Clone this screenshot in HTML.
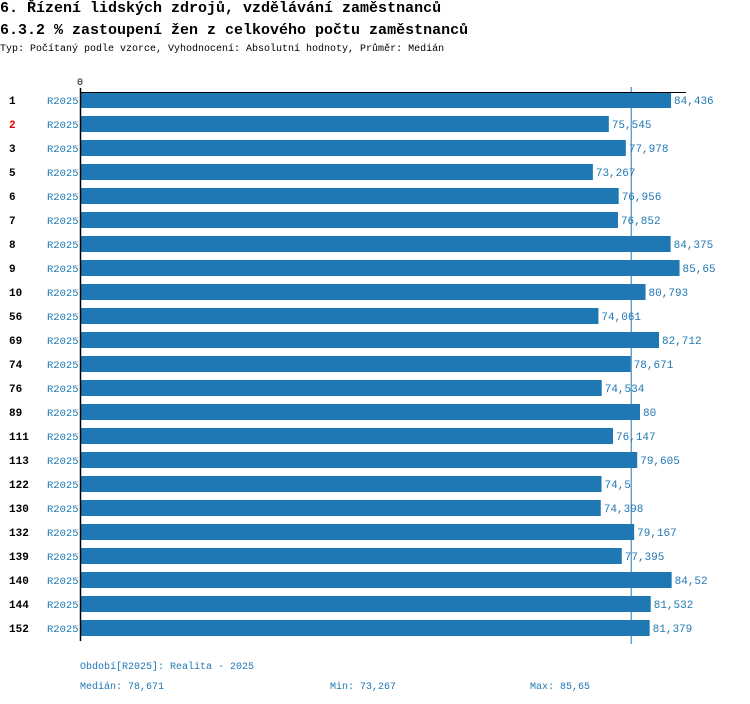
<!DOCTYPE html>
<html><head><meta charset="utf-8"><style>
body{margin:0;background:#fff;width:750px;height:704px;overflow:hidden;font-family:"Liberation Mono","DejaVu Sans Mono",monospace}
.t{position:absolute;left:0;font-weight:bold;font-size:15px;color:#000;white-space:nowrap}
</style></head><body>
<div class="t" style="top:0px">6. Řízení lidských zdrojů, vzdělávání zaměstnanců</div>
<div class="t" style="top:22px">6.3.2 % zastoupení žen z celkového počtu zaměstnanců</div>
<div style="position:absolute;left:0;top:44px;font-size:10px;white-space:nowrap">Typ: Počítaný podle vzorce, Vyhodnocení: Absolutní hodnoty, Průměr: Medián</div>
<svg id="c" width="750" height="704" style="position:absolute;left:0;top:0"></svg>
<script>
const categories=["1","2","3","5","6","7","8","9","10","56","69","74","76","89","111","113","122","130","132","139","140","144","152"];
const values=[84.436,75.545,77.978,73.267,76.956,76.852,84.375,85.65,80.793,74.061,82.712,78.671,74.534,80,76.147,79.605,74.5,74.398,79.167,77.395,84.52,81.532,81.379];
const labels=["84,436","75,545","77,978","73,267","76,956","76,852","84,375","85,65","80,793","74,061","82,712","78,671","74,534","80","76,147","79,605","74,5","74,398","79,167","77,395","84,52","81,532","81,379"];
const median=78.671;
const svg=document.getElementById('c');const NS='http://www.w3.org/2000/svg';
const x=v=>80+v*7;const y=i=>100+i*24;
function mk(t,a,txt){const e=document.createElementNS(NS,t);for(const k in a)e.setAttribute(k,a[k]);if(txt!==undefined)e.textContent=txt;svg.appendChild(e);return e;}
let e;
e=mk('line',{x1:x(median)+0.5,x2:x(median)+0.5,y1:87,y2:644,stroke:'#1f77b4','stroke-width':1});


e=mk('text',{x:80,y:85,'font-size':10,'text-anchor':'middle','font-family':'Liberation Mono,monospace'},'0');


categories.forEach((c,i)=>{
 e=mk('rect',{x:x(0),y:y(i)-8,width:x(values[i])-x(0),height:16,fill:'#1f77b4'});
 
 
 e=mk('text',{x:x(values[i])+3,y:y(i)+4,'font-size':11,fill:'#1f77b4','font-family':'Liberation Mono,monospace'},labels[i]);
 
 
 e=mk('text',{x:9,y:y(i)+4,'font-size':11,'font-weight':'bold',fill:c==='2'?'#e00':'#000','font-family':'Liberation Mono,monospace'},c);
 
 
 e=mk('text',{x:47,y:y(i)+4,'font-size':10.5,fill:'#1f77b4','font-family':'Liberation Mono,monospace'},'R2025');
 
 
});
e=mk('line',{x1:80,x2:686,y1:92.5,y2:92.5,stroke:'#000','stroke-width':1});


e=mk('line',{x1:80.5,x2:80.5,y1:88,y2:641,stroke:'#000','stroke-width':1.5});


const foot=[[80,669,'Období[R2025]: Realita - 2025','legend-period'],[80,689,'Medián: 78,671','median-stat'],[330,689,'Min: 73,267','min-stat'],[530,689,'Max: 85,65','max-stat']];
foot.forEach(f=>{e=mk('text',{x:f[0],y:f[1],'font-size':10,fill:'#1f77b4','font-family':'Liberation Mono,monospace'},f[2]);
 
 });
</script>
</body></html>
